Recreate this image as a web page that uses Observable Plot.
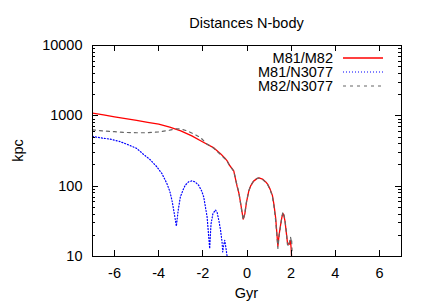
<!DOCTYPE html>
<html><head><meta charset="utf-8">
<script src="https://cdn.jsdelivr.net/npm/d3@7"></script>
<script src="https://cdn.jsdelivr.net/npm/@observablehq/plot@0.6"></script>
<style>body{margin:0;background:#fff}</style>
</head><body><div id="chart"></div>
<script>
const title = "Distances N-body";
const xLabel = "Gyr";
const yLabel = "kpc";
const xTicks = [-6, -4, -2, 0, 2, 4, 6];
const yTicks = [10, 100, 1000, 10000];
const seriesNames = ["M81/M82", "M81/N3077", "M82/N3077"];

const gyrM81M82 = [-7.0,-6.5,-6.0,-5.5,-5.0,-4.5,-4.0,-3.5,-3.0,-2.5,-2.0,-1.5,-1.2,-1.0,-0.9,-0.8,-0.6,-0.45,-0.37,-0.28,-0.22,-0.17,-0.10,-0.02,0.08,0.16,0.3,0.45,0.54,0.7,0.85,0.95,1.05,1.15,1.22,1.30,1.36,1.40,1.45,1.52,1.58,1.63,1.67,1.72,1.78,1.83,1.88,1.93,1.97,2.00,2.02];
const kpcM81M82 = [1095,1030,968,915,863,810,760,690,612,520,425,350,290,250,229,200,165,100,80,55,42,34,40,60,85,100,118,128,131,126,115,105,90,74,55,35,20,14,20,28,36,41,38,32,22,16,15,15,17,13,10];

const gyrM81N3077 = [-7.0,-6.5,-6.2,-5.8,-5.45,-5.0,-4.7,-4.4,-4.08,-3.85,-3.63,-3.5,-3.40,-3.30,-3.20,-3.12,-3.02,-2.9,-2.80,-2.65,-2.49,-2.35,-2.19,-2.05,-1.96,-1.88,-1.81,-1.75,-1.69,-1.66,-1.63,-1.55,-1.43,-1.35,-1.28,-1.2,-1.13,-1.10,-1.05,-1.01,-0.95,-0.90];
const kpcM81N3077 = [510,480,466,435,396,345,285,240,188,150,109,85,63,42,27,45,70,88,103,115,119,115,103,85,70,50,37,22,13,20,29,40,46,42,33,24,16,11.6,15,17,13,10];

const gyrM82N3077 = [-7.0,-6.5,-6.0,-5.5,-5.0,-4.5,-4.0,-3.5,-3.2,-3.0,-2.7,-2.4,-2.1,-1.9,-1.8,-1.5,-1.0,-0.9,-0.8,-0.6,-0.45,-0.37,-0.28,-0.22,-0.17,-0.10,-0.02,0.08,0.16,0.3,0.45,0.54,0.7,0.85,0.95,1.05,1.15,1.22,1.30,1.36,1.40,1.45,1.52,1.58,1.63,1.67,1.72,1.78,1.83,1.88,1.93,1.97,2.00,2.02,2.04];
const kpcM82N3077 = [630,610,595,580,575,575,590,625,655,650,610,550,490,420,395,345,245,226,200,163,102,82,54,41,33,41,61,86,101,119,129,130,125,113,103,88,72,52,32,19,13,19,27,37,43,40,33,23,15,14,16,19,17,18,12];

const colors = ["#ff0000", "#0000ff", "#666666"];
const dashes = [null, "1,2", "3,4"];

const rows = (xs, ys) => xs.map((x, i) => ({x, y: ys[i]}));
const data = [rows(gyrM81M82, kpcM81M82), rows(gyrM81N3077, kpcM81N3077), rows(gyrM82N3077, kpcM82N3077)];

const font = "'Liberation Sans', Arial, Helvetica, sans-serif";
const plot = Plot.plot({
  width: 436, height: 305,
  marginLeft: 92, marginRight: 35, marginTop: 45, marginBottom: 49,
  style: {fontFamily: font, fontSize: "14.5px", background: "#fff", color: "#000", overflow: "visible"},
  x: {domain: [-7, 7], ticks: xTicks, tickSize: 0, tickPadding: 11, label: null, tickFormat: d => String(d)},
  y: {type: "log", domain: [10, 10000], ticks: yTicks, tickSize: 0, tickPadding: 10, label: null, tickFormat: d => String(d)},
  marks: [
    ...data.map((d, i) => Plot.line(d, {x: "x", y: "y", stroke: colors[i], strokeWidth: i === 0 ? 1.3 : 1.2, strokeDasharray: dashes[i], clip: true})),
    Plot.frame({stroke: "#000", strokeWidth: 1})
  ]
});

const svg = d3.select(plot);
const sx = plot.scale("x"), sy = plot.scale("y");
const [x0, x1] = [sx.apply(-7), sx.apply(7)];
const [yb, yt] = [sy.apply(10), sy.apply(10000)];
const g = svg.append("g").attr("stroke", "#000").attr("stroke-width", 1);
for (const t of xTicks) {
  const px = Math.round(sx.apply(t)) + 0.5;
  g.append("line").attr("x1", px).attr("x2", px).attr("y1", yb).attr("y2", yb - 6);
  g.append("line").attr("x1", px).attr("x2", px).attr("y1", yt).attr("y2", yt + 6);
}
for (let e = 1; e <= 4; e++) {
  for (let m = 1; m <= 9; m++) {
    const v = m * Math.pow(10, e);
    if (v > 10000 || (e === 4 && m > 1)) continue;
    const py = Math.round(sy.apply(v)) + 0.5;
    const len = m === 1 ? 6 : 3;
    g.append("line").attr("x1", x0).attr("x2", x0 + len).attr("y1", py).attr("y2", py);
    g.append("line").attr("x1", x1).attr("x2", x1 - len).attr("y1", py).attr("y2", py);
  }
}
const cx = (x0 + x1) / 2;
const txt = svg.append("g").attr("font-family", font).attr("font-size", "14.5px").attr("fill", "#000");
txt.append("text").attr("x", cx).attr("y", 28).attr("text-anchor", "middle").text(title);
txt.append("text").attr("x", cx).attr("y", 298).attr("text-anchor", "middle").text(xLabel);
txt.append("text").attr("transform", `translate(18,${(yb + yt) / 2}) rotate(-90)`).attr("text-anchor", "middle").attr("dy", "0.35em").text(yLabel);

const legY = [58, 72, 86];
seriesNames.forEach((name, i) => {
  txt.append("text").attr("x", 333).attr("y", legY[i]).attr("dy", "0.35em").attr("text-anchor", "end").text(name);
  const ln = svg.append("line").attr("x1", 343).attr("x2", 383).attr("y1", legY[i]).attr("y2", legY[i])
    .attr("stroke", colors[i]).attr("stroke-width", i === 0 ? 1.3 : 1.2);
  if (dashes[i]) ln.attr("stroke-dasharray", dashes[i]);
});

document.getElementById("chart").appendChild(plot);
</script>
</body></html>
